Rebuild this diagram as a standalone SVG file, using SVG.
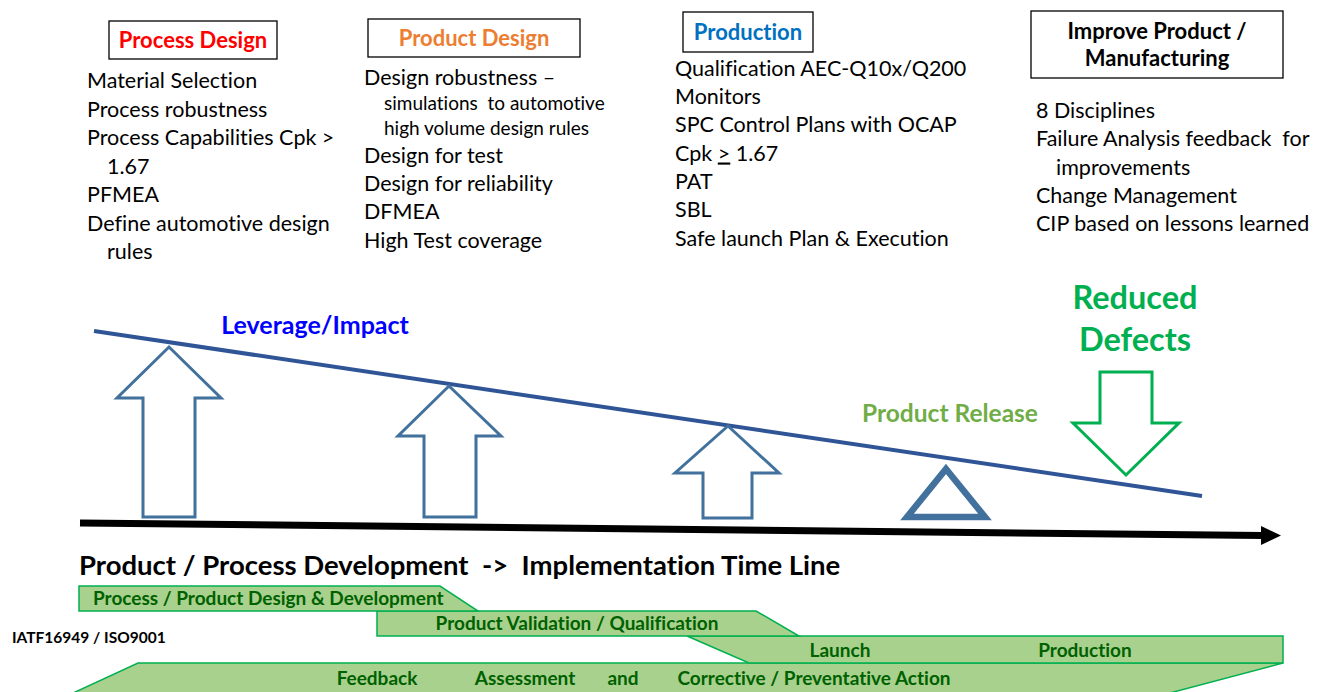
<svg xmlns="http://www.w3.org/2000/svg" width="1327" height="692" viewBox="0 0 1327 692">
<style>
text{font-family:Lato,"Open Sans","Liberation Sans",sans-serif;white-space:pre;font-variant-ligatures:none;font-feature-settings:"liga" 0,"dlig" 0}
.body{font-size:21.5px;fill:#000}
.small{font-size:19px;fill:#000}
.hdr{font-size:22px;font-weight:bold;text-anchor:middle}
.box{fill:#fff;stroke:#000;stroke-width:1.3}
.blk{fill:#fff;stroke:#41719C;stroke-width:3}
.band{fill:#A9D18E;stroke:#00B050;stroke-width:1.5}
.bt{font-size:19px;font-weight:bold;fill:#006100}
</style>
<rect width="1327" height="692" fill="#fff"/>

<g id="process-design">
<rect class="box" x="109" y="21" width="168" height="38"/>
<text class="hdr" x="193" y="48" fill="#FF0000">Process Design</text>
<text class="body" x="87" y="88">Material Selection</text>
<text class="body" x="87" y="116.5">Process robustness</text>
<text class="body" x="87" y="145">Process Capabilities Cpk &gt;</text>
<text class="body" x="107" y="173.5">1.67</text>
<text class="body" x="87" y="202">PFMEA</text>
<text class="body" x="87" y="230.5">Define automotive design</text>
<text class="body" x="107" y="259">rules</text>
</g>

<g id="product-design">
<rect class="box" x="368" y="19" width="212" height="38"/>
<text class="hdr" x="474" y="46" fill="#ED7D31">Product Design</text>
<text class="body" x="364" y="85">Design robustness –</text>
<text class="small" x="384" y="109.5">simulations  to automotive</text>
<text class="small" x="384" y="134.5">high volume design rules</text>
<text class="body" x="364" y="162.5">Design for test</text>
<text class="body" x="364" y="190.5">Design for reliability</text>
<text class="body" x="364" y="218.5">DFMEA</text>
<text class="body" x="364" y="247.5">High Test coverage</text>
</g>

<g id="production">
<rect class="box" x="683" y="12" width="130" height="40"/>
<text class="hdr" x="748" y="40" fill="#0070C0">Production</text>
<text class="body" x="675" y="75.5">Qualification AEC-Q10x/Q200</text>
<text class="body" x="675" y="103.5">Monitors</text>
<text class="body" x="675" y="131.5">SPC Control Plans with OCAP</text>
<text class="body" x="675" y="160.5">Cpk <tspan text-decoration="underline">&gt;</tspan> 1.67</text>
<text class="body" x="675" y="188.5">PAT</text>
<text class="body" x="675" y="216.5">SBL</text>
<text class="body" x="675" y="245.5">Safe launch Plan &amp; Execution</text>
</g>

<g id="improve">
<rect class="box" x="1031" y="11" width="252" height="67"/>
<text class="hdr" x="1157" y="39" fill="#000">Improve Product /</text>
<text class="hdr" x="1157" y="66" fill="#000">Manufacturing</text>
<text class="body" x="1036" y="117.5">8 Disciplines</text>
<text class="body" x="1036" y="145.5">Failure Analysis feedback  for</text>
<text class="body" x="1056" y="174.5">improvements</text>
<text class="body" x="1036" y="202.5">Change Management</text>
<text class="body" x="1036" y="230.5">CIP based on lessons learned</text>
</g>

<g id="connectors">
<line x1="94" y1="331" x2="1202" y2="496" stroke="#2F5597" stroke-width="4"/>
<line x1="80" y1="523" x2="1263" y2="535.5" stroke="#000" stroke-width="7"/>
<polygon points="1261,526 1281,535.5 1261,545" fill="#000"/>
</g>

<g id="arrow-1"><polygon class="blk" points="169,347 221,398 195,398 195,517 143,517 143,398 117,398"/></g>
<g id="arrow-2"><polygon class="blk" points="449,386 501,436 476,436 476,517 424,517 424,436 398,436"/></g>
<g id="arrow-3"><polygon class="blk" points="728,426 779,473 752,473 752,518 703,518 703,473 675,473"/></g>
<g id="release-triangle"><polygon points="946,469 985,517 907,517" fill="#fff" stroke="#41719C" stroke-width="6.5"/></g>
<g id="defects-arrow"><polygon points="1100,372 1152,372 1152,423 1179,423 1126,475 1073,423 1100,423" fill="#fff" stroke="#00B050" stroke-width="3"/></g>

<g id="labels">
<text x="315" y="334" font-size="25" font-weight="bold" fill="#0000FF" text-anchor="middle">Leverage/Impact</text>
<text x="1135" y="309" font-size="32.5" font-weight="bold" fill="#00B050" text-anchor="middle">Reduced</text>
<text x="1135" y="351" font-size="32.5" font-weight="bold" fill="#00B050" text-anchor="middle">Defects</text>
<text x="950" y="422" font-size="24.5" font-weight="bold" fill="#70AD47" text-anchor="middle">Product Release</text>
<text x="79" y="575" font-size="27.5" font-weight="bold" fill="#000">Product / Process Development  -&gt;  Implementation Time Line</text>
<text x="12" y="643" font-size="15.5" font-weight="bold" fill="#000">IATF16949 / ISO9001</text>
</g>

<g id="band-4">
<polygon class="band" points="138,663 1283,663 1166,694 71,694"/>
<text class="bt" x="377" y="685" text-anchor="middle">Feedback</text>
<text class="bt" x="525" y="685" text-anchor="middle">Assessment</text>
<text class="bt" x="623" y="685" text-anchor="middle">and</text>
<text class="bt" x="814" y="685" text-anchor="middle">Corrective / Preventative Action</text>
</g>
<g id="band-3">
<polygon class="band" points="687,636 1283,636 1283,663 749,663"/>
<text class="bt" x="840" y="657" text-anchor="middle">Launch</text>
<text class="bt" x="1085" y="657" text-anchor="middle">Production</text>
</g>
<g id="band-2">
<polygon class="band" points="377,611 756,611 799,636 377,636"/>
<text class="bt" x="577" y="630" text-anchor="middle">Product Validation / Qualification</text>
</g>
<g id="band-1">
<polygon class="band" points="79,586 440,586 478,611 79,611"/>
<text class="bt" x="93" y="605">Process / Product Design &amp; Development</text>
</g>
</svg>
